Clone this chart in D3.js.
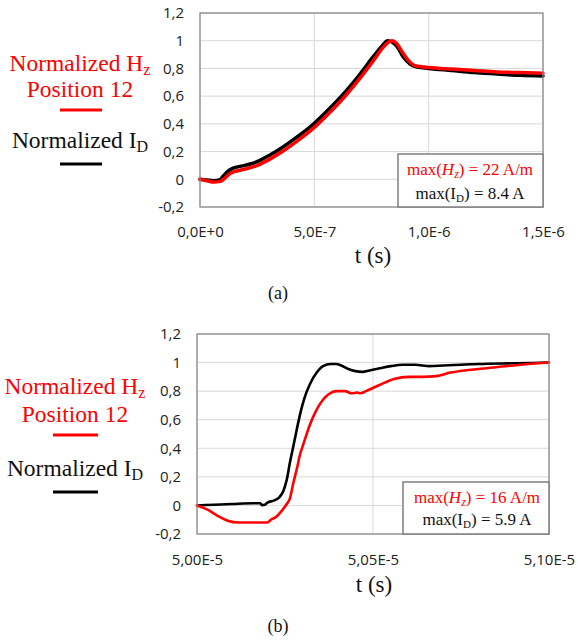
<!DOCTYPE html>
<html><head><meta charset="utf-8">
<script src="https://cdn.jsdelivr.net/npm/d3@7"></script>
<style>body{margin:0;background:#fff}svg{display:block}</style>
</head><body>
<script>
// ---------- shared axis data ----------
const yTicks = [-0.2, 0, 0.2, 0.4, 0.6, 0.8, 1, 1.2];
const yTickLabels = ["-0,2", "0", "0,2", "0,4", "0,6", "0,8", "1", "1,2"];

// ---------- panel (a): time in ns ----------
const aTicks = [0, 500, 1000, 1500];
const aTickLabels = ["0,0E+0", "5,0E-7", "1,0E-6", "1,5E-6"];
const aTimeI = [0, 30, 60, 85, 100, 120, 145, 180, 220, 260, 300, 360, 420, 490, 560, 640, 700, 760, 800, 820, 840, 865, 890, 920, 950, 1000, 1100, 1200, 1300, 1400, 1500];
const aCurrent = [0, -0.005, -0.01, -0.005, 0.02, 0.055, 0.08, 0.095, 0.11, 0.135, 0.17, 0.23, 0.30, 0.39, 0.50, 0.64, 0.76, 0.89, 0.97, 1.0, 0.99, 0.95, 0.88, 0.83, 0.81, 0.80, 0.785, 0.77, 0.76, 0.75, 0.745];
const aTimeH = [0, 30, 60, 90, 110, 130, 160, 200, 250, 300, 360, 420, 490, 560, 640, 700, 760, 800, 825, 840, 860, 880, 910, 940, 980, 1100, 1200, 1300, 1400, 1500];
const aField = [0, -0.01, -0.02, -0.015, 0.01, 0.04, 0.06, 0.075, 0.10, 0.14, 0.20, 0.27, 0.36, 0.47, 0.61, 0.73, 0.86, 0.95, 0.99, 1.0, 0.98, 0.93, 0.86, 0.82, 0.81, 0.795, 0.785, 0.775, 0.77, 0.765];
const aMaxH = "22 A/m";
const aMaxI = "8.4 A";

// ---------- panel (b): time in ns ----------
const bTicks = [50000, 50500, 51000];
const bTickLabels = ["5,00E-5", "5,05E-5", "5,10E-5"];
const bTimeI = [50000, 50050, 50100, 50160, 50180, 50185, 50193, 50200, 50220, 50235, 50245, 50255, 50264, 50275, 50285, 50295, 50305, 50321, 50340, 50358, 50380, 50395, 50410, 50430, 50450, 50470, 50490, 50520, 50550, 50585, 50620, 50660, 50700, 50750, 50800, 50900, 51000];
const bCurrent = [0, 0.005, 0.01, 0.015, 0.015, 0.002, 0.005, 0.02, 0.035, 0.06, 0.1, 0.18, 0.3, 0.43, 0.55, 0.66, 0.75, 0.85, 0.93, 0.975, 0.99, 0.99, 0.98, 0.955, 0.94, 0.935, 0.945, 0.96, 0.975, 0.985, 0.985, 0.975, 0.98, 0.985, 0.99, 0.995, 1.0];
const bTimeH = [50000, 50030, 50060, 50085, 50120, 50160, 50200, 50210, 50225, 50240, 50255, 50264, 50273, 50284, 50293, 50301, 50320, 50330, 50358, 50375, 50395, 50420, 50440, 50455, 50465, 50480, 50520, 50560, 50600, 50640, 50680, 50720, 50760, 50800, 50900, 51000];
const bField = [0, -0.03, -0.075, -0.105, -0.12, -0.12, -0.12, -0.10, -0.08, -0.04, 0.01, 0.05, 0.15, 0.26, 0.36, 0.42, 0.56, 0.62, 0.74, 0.78, 0.80, 0.80, 0.785, 0.79, 0.785, 0.80, 0.845, 0.885, 0.90, 0.90, 0.905, 0.93, 0.945, 0.955, 0.98, 1.0];
const bMaxH = "16 A/m";
const bMaxI = "5.9 A";

const RED = "#ff0000", BLACK = "#000000";
const SERIF = "'Liberation Serif', serif";
const SANS = "'Open Sans', sans-serif";

const svg = d3.select("body").append("svg").attr("width", 578).attr("height", 641);

function panel(cfg) {
  const g = svg.append("g");
  const x = d3.scaleLinear().domain(cfg.xDomain).range([cfg.left, cfg.right]);
  const y = d3.scaleLinear().domain([-0.2, 1.2]).range([cfg.bottom, cfg.top]);

  // horizontal gridlines
  g.append("g").selectAll("line").data(yTicks).join("line")
    .attr("x1", cfg.left).attr("x2", cfg.right)
    .attr("y1", d => y(d)).attr("y2", d => y(d))
    .attr("stroke", "#d9d9d9").attr("stroke-width", 1);
  // vertical gridlines
  g.append("g").selectAll("line").data(cfg.xTicks).join("line")
    .attr("x1", d => x(d)).attr("x2", d => x(d))
    .attr("y1", cfg.top).attr("y2", cfg.bottom)
    .attr("stroke", "#d9d9d9").attr("stroke-width", 1);

  // y axis labels
  const yAxis = d3.axisLeft(y).tickValues(yTicks).tickSize(0).tickPadding(0)
    .tickFormat((d, i) => yTickLabels[i]);
  const ya = g.append("g").attr("transform", `translate(${cfg.yLabelX},0)`).call(yAxis);
  ya.select(".domain").remove();
  ya.selectAll("text").attr("font-family", SANS).attr("font-size", 15).attr("fill", "#222");

  // x axis labels
  const xAxis = d3.axisBottom(x).tickValues(cfg.xTicks).tickSize(0).tickPadding(0)
    .tickFormat((d, i) => cfg.xTickLabels[i]);
  const xa = g.append("g").attr("transform", `translate(0,${cfg.xLabelY})`).call(xAxis);
  xa.select(".domain").remove();
  xa.selectAll("text").attr("font-family", SANS).attr("font-size", 15).attr("fill", "#222")
    .attr("dy", 0);

  // lines
  const line = d3.line().x(d => x(d[0])).y(d => y(d[1])).curve(d3.curveMonotoneX);
  g.append("path").datum(d3.zip(cfg.tI, cfg.vI)).attr("d", line)
    .attr("fill", "none").attr("stroke", BLACK).attr("stroke-width", cfg.lw)
    .attr("stroke-linejoin", "round").attr("stroke-linecap", "round");
  g.append("path").datum(d3.zip(cfg.tH, cfg.vH)).attr("d", line)
    .attr("fill", "none").attr("stroke", RED).attr("stroke-width", cfg.lw)
    .attr("stroke-linejoin", "round").attr("stroke-linecap", "round");

  // plot border
  g.append("rect").attr("x", cfg.left).attr("y", cfg.top)
    .attr("width", cfg.right - cfg.left).attr("height", cfg.bottom - cfg.top)
    .attr("fill", "none").attr("stroke", "#8c8c8c").attr("stroke-width", 1.3);

  // info box
  const bx = cfg.box;
  g.append("rect").attr("x", bx.x0).attr("y", bx.y0)
    .attr("width", bx.x1 - bx.x0).attr("height", bx.y1 - bx.y0)
    .attr("fill", "#fff").attr("stroke", "#7f7f7f").attr("stroke-width", 1.5);
  const t1 = g.append("text").attr("x", bx.cx).attr("y", bx.b1).attr("text-anchor", "middle")
    .attr("font-family", SERIF).attr("font-size", 17).attr("fill", RED);
  t1.append("tspan").text("max(");
  t1.append("tspan").attr("font-style", "italic").text("H");
  t1.append("tspan").attr("font-style", "italic").attr("font-size", 12).attr("dy", 3).text("z");
  t1.append("tspan").attr("dy", -3).text(") = " + cfg.maxH);
  const t2 = g.append("text").attr("x", bx.cx).attr("y", bx.b2).attr("text-anchor", "middle")
    .attr("font-family", SERIF).attr("font-size", 17).attr("fill", "#111");
  t2.append("tspan").text("max(I");
  t2.append("tspan").attr("font-size", 11).attr("dy", 3).text("D");
  t2.append("tspan").attr("dy", -3).text(") = " + cfg.maxI);

  // axis title and caption
  g.append("text").attr("x", cfg.titleX).attr("y", cfg.titleY).attr("text-anchor", "middle")
    .attr("font-family", SERIF).attr("font-size", 23).attr("fill", "#111").text("t (s)");
  g.append("text").attr("x", cfg.capX).attr("y", cfg.capY).attr("text-anchor", "middle")
    .attr("font-family", SERIF).attr("font-size", 18).attr("fill", "#111").text(cfg.caption);

  // left legend
  const L = cfg.legend;
  const h1 = g.append("text").attr("x", L.cx).attr("y", L.b1).attr("text-anchor", "middle")
    .attr("font-family", SERIF).attr("font-size", 23.5).attr("fill", RED);
  h1.append("tspan").text("Normalized H");
  h1.append("tspan").attr("font-size", 16).attr("dy", 4).text("z");
  g.append("text").attr("x", L.cx).attr("y", L.b2).attr("text-anchor", "middle")
    .attr("font-family", SERIF).attr("font-size", 23.5).attr("fill", RED).text("Position 12");
  g.append("line").attr("x1", L.lx0).attr("x2", L.lx1).attr("y1", L.ly1).attr("y2", L.ly1)
    .attr("stroke", RED).attr("stroke-width", 3);
  const h2 = g.append("text").attr("x", L.cx).attr("y", L.b3).attr("text-anchor", "middle")
    .attr("font-family", SERIF).attr("font-size", 23.5).attr("fill", "#111");
  h2.append("tspan").text("Normalized I");
  h2.append("tspan").attr("font-size", 16).attr("dy", 4).text("D");
  g.append("line").attr("x1", L.lx0).attr("x2", L.lx1).attr("y1", L.ly2).attr("y2", L.ly2)
    .attr("stroke", BLACK).attr("stroke-width", 3);
}

panel({
  xDomain: [0, 1500], xTicks: aTicks, xTickLabels: aTickLabels,
  left: 200, right: 543, top: 13, bottom: 207,
  yLabelX: 184, xLabelY: 237, lw: 3.5,
  tI: aTimeI, vI: aCurrent, tH: aTimeH, vH: aField,
  maxH: aMaxH, maxI: aMaxI,
  box: {x0: 398, x1: 543, y0: 154, y1: 207, cx: 470, b1: 175, b2: 199},
  titleX: 373, titleY: 263, capX: 278, capY: 299, caption: "(a)",
  legend: {cx: 80, b1: 71, b2: 97, b3: 148, lx0: 60, lx1: 102, ly1: 110, ly2: 164}
});

panel({
  xDomain: [50000, 51000], xTicks: bTicks, xTickLabels: bTickLabels,
  left: 197, right: 549, top: 334, bottom: 534,
  yLabelX: 181, xLabelY: 565, lw: 2.6,
  tI: bTimeI, vI: bCurrent, tH: bTimeH, vH: bField,
  maxH: bMaxH, maxI: bMaxI,
  box: {x0: 403, x1: 549, y0: 482, y1: 534, cx: 477, b1: 503, b2: 525},
  titleX: 374, titleY: 592, capX: 278, capY: 632, caption: "(b)",
  legend: {cx: 75, b1: 394, b2: 422, b3: 476, lx0: 53, lx1: 98, ly1: 435, ly2: 492}
});
</script>
</body></html>
